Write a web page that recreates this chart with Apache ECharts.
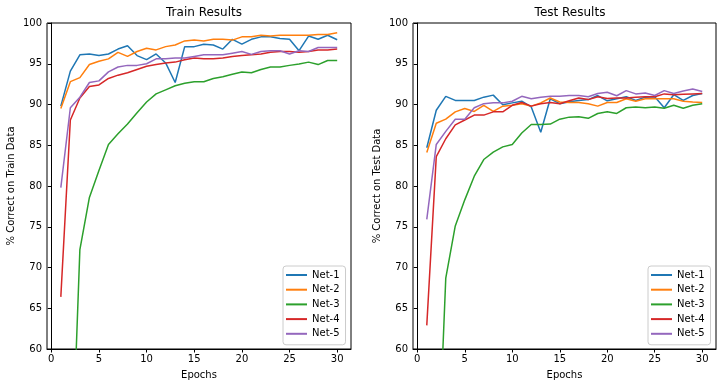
<!DOCTYPE html>
<html>
<head>
<meta charset="utf-8">
<script src="https://cdn.jsdelivr.net/npm/echarts@6/dist/echarts.min.js"></script>
<style>
html,body{margin:0;padding:0;background:#fff;}
#chart{width:723px;height:387px;}
</style>
</head>
<body>
<div id="chart"></div>
<script>
var epochs = [1,2,3,4,5,6,7,8,9,10,11,12,13,14,15,16,17,18,19,20,21,22,23,24,25,26,27,28,29,30];
var xTicks = [0,5,10,15,20,25,30];
var seriesNames = ['Net-1','Net-2','Net-3','Net-4','Net-5'];

var trainNet1 = [89.8,94.1,96.1,96.2,96.0,96.2,96.8,97.2,96.0,95.5,96.2,95.1,92.7,97.1,97.1,97.4,97.3,96.8,98.0,97.4,98.0,98.3,98.3,98.1,98.0,96.6,98.4,98.0,98.5,97.95];
var trainNet2 = [89.5,92.8,93.3,94.9,95.3,95.6,96.4,95.9,96.5,96.9,96.7,97.1,97.3,97.8,97.9,97.8,98.0,98.0,97.9,98.3,98.3,98.5,98.4,98.5,98.5,98.5,98.5,98.6,98.6,98.8];
var trainNet3 = [25,40,72.2,78.6,81.9,85.1,86.4,87.6,89.0,90.3,91.3,91.8,92.3,92.6,92.8,92.8,93.2,93.4,93.7,94.0,93.9,94.3,94.6,94.6,94.8,94.96,95.2,94.9,95.4,95.4];
var trainNet4 = [66.4,88.1,90.8,92.2,92.4,93.2,93.6,93.9,94.3,94.7,94.9,95.1,95.2,95.5,95.7,95.6,95.6,95.7,95.9,96.0,96.1,96.2,96.4,96.5,96.5,96.4,96.5,96.7,96.7,96.8];
var trainNet5 = [79.8,89.6,90.9,92.7,92.9,94.0,94.6,94.8,94.8,95.0,95.6,95.6,95.7,95.7,95.9,96.1,96.1,96.1,96.3,96.5,96.15,96.5,96.6,96.6,96.2,96.6,96.5,97.0,97.0,97.0];

var testNet1 = [84.7,89.3,91.0,90.5,90.5,90.5,90.9,91.15,89.97,90.2,90.4,89.7,86.6,90.7,90.1,90.35,90.5,90.6,91.1,90.45,90.7,90.95,90.5,90.9,90.95,89.6,91.2,90.5,91.1,91.35];
var testNet2 = [84.1,87.7,88.2,89.1,89.5,89.15,89.9,89.15,89.8,89.9,90.1,89.8,90.2,90.8,90.3,90.25,90.25,90.1,89.8,90.25,90.25,90.7,90.4,90.7,90.7,90.7,90.7,90.4,90.3,90.25];
var testNet3 = [25,40,68.7,75.1,78.3,81.2,83.25,84.15,84.8,85.1,86.5,87.55,87.55,87.6,88.2,88.45,88.5,88.3,88.9,89.1,88.9,89.6,89.7,89.6,89.7,89.55,89.9,89.55,89.9,90.1];
var testNet4 = [62.9,83.6,85.8,87.5,88.1,88.7,88.7,89.1,89.1,89.9,90.25,89.8,90.1,90.25,90.1,90.45,90.8,90.6,90.95,90.75,90.8,90.8,90.9,90.95,90.95,91.3,91.2,91.25,91.3,91.35];
var testNet5 = [75.9,85.1,86.7,88.2,88.2,89.6,90.1,90.2,90.2,90.4,91.0,90.7,90.9,91.0,91.0,91.1,91.1,90.95,91.35,91.5,91.07,91.7,91.3,91.4,91.1,91.7,91.35,91.65,91.9,91.6];

var colors = ['#1f77b4','#ff7f0e','#2ca02c','#d62728','#9467bd'];
var trainData = [trainNet1,trainNet2,trainNet3,trainNet4,trainNet5];
var testData = [testNet1,testNet2,testNet3,testNet4,testNet5];

var FONT = 'DejaVu Sans';
function pairs(vals){ return epochs.map(function(e,i){ return [e, vals[i]]; }); }

function xAxisFor(idx){
  return {
    type:'value', gridIndex:idx, min:-0.45, max:31.45,
    name:'Epochs', nameLocation:'middle', nameGap:21,
    nameTextStyle:{fontFamily:FONT,fontSize:10,color:'#000'},
    axisLine:{lineStyle:{color:'#000',width:1}},
    axisTick:{customValues:xTicks,length:3.5,lineStyle:{color:'#000'}},
    axisLabel:{customValues:xTicks,fontFamily:FONT,fontSize:10,color:'#000',margin:5},
    splitLine:{show:false}
  };
}
function yAxisFor(idx,name){
  return {
    type:'value', gridIndex:idx, min:60, max:100, interval:5,
    name:name, nameLocation:'middle', nameGap:31,
    nameTextStyle:{fontFamily:FONT,fontSize:10,color:'#000'},
    axisLine:{show:true,lineStyle:{color:'#000',width:1}},
    axisTick:{show:true,length:3.5,lineStyle:{color:'#000'}},
    axisLabel:{fontFamily:FONT,fontSize:10,color:'#000',margin:5},
    splitLine:{show:false}
  };
}

var series = [];
[trainData,testData].forEach(function(set,gi){
  set.forEach(function(vals,si){
    series.push({
      type:'line', name:seriesNames[si], xAxisIndex:gi, yAxisIndex:gi,
      data:pairs(vals), symbol:'none', clip:true,
      lineStyle:{color:colors[si],width:1.5}, itemStyle:{color:colors[si]},
      animation:false
    });
  });
});

function legendFor(left){
  return {
    orient:'vertical', left:left, top:266,
    data:seriesNames, icon:'rect', itemWidth:21, itemHeight:2, itemGap:2.7,
    backgroundColor:'rgba(255,255,255,0.8)', borderColor:'#cccccc', borderWidth:1, borderRadius:3,
    padding:[3,6,5,3],
    textStyle:{fontFamily:FONT,fontSize:10,color:'#000',lineHeight:12},
    selectedMode:false
  };
}

var option = {
  backgroundColor:'#fff',
  animation:false,
  title:[
    {text:'Train Results', left:199, top:2, textAlign:'center', textStyle:{fontFamily:FONT,fontSize:12,fontWeight:'normal',color:'#000'}},
    {text:'Test Results', left:565, top:2, textAlign:'center', textStyle:{fontFamily:FONT,fontSize:12,fontWeight:'normal',color:'#000'}}
  ],
  grid:[
    {left:47, top:23, width:304, height:326, show:true, borderColor:'#000', borderWidth:1, backgroundColor:'transparent'},
    {left:413, top:23, width:303, height:326, show:true, borderColor:'#000', borderWidth:1, backgroundColor:'transparent'}
  ],
  xAxis:[xAxisFor(0), xAxisFor(1)],
  yAxis:[yAxisFor(0,'% Correct on Train Data'), yAxisFor(1,'% Correct on Test Data')],
  legend:[legendFor(283), legendFor(648)],
  series:series
};

var chart = echarts.init(document.getElementById('chart'), null, {renderer:'canvas'});
chart.setOption(option);
</script>
</body>
</html>
